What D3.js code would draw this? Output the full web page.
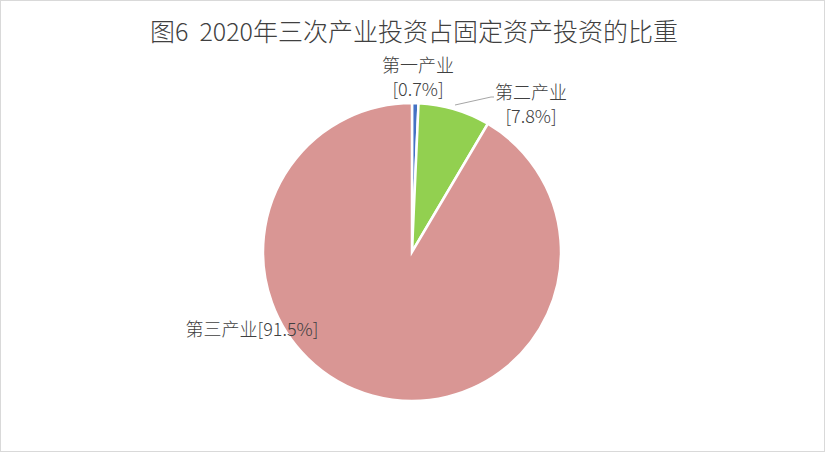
<!DOCTYPE html>
<html>
<head>
<meta charset="utf-8">
<script src="https://cdn.jsdelivr.net/npm/d3@7"></script>
<style>
  html, body { margin: 0; padding: 0; background: #fff; }
  text { font-family: "Noto Sans CJK SC", "Noto Sans", sans-serif; fill: #404040; font-weight: 300; }
</style>
</head>
<body>
<script>
const industries = ['第一产业', '第二产业', '第三产业'];
const shares = [0.7, 7.8, 91.5];
const sliceColors = ['#4472C4', '#92D050', '#D99694'];

const width = 825;
const height = 452;
const cx = 412, cy = 252, radius = 149;

const svg = d3.select('body')
  .append('svg')
  .attr('width', width)
  .attr('height', height);

svg.append('rect')
  .attr('x', 0.5).attr('y', 0.5)
  .attr('width', width - 1).attr('height', height - 1)
  .attr('fill', '#fff')
  .attr('stroke', '#D9D9D9');

svg.append('text')
  .attr('x', 414)
  .attr('y', 41)
  .attr('text-anchor', 'middle')
  .style('font-size', '25px')
  .style('white-space', 'pre')
  .style('fill', '#404040')
  .text('图6  2020年三次产业投资占固定资产投资的比重');

const data = industries.map((name, i) => ({ name, value: shares[i], color: sliceColors[i] }));

const pie = d3.pie().sort(null).value(d => d.value);
const arc = d3.arc().innerRadius(0).outerRadius(radius);
const arcs = pie(data);

const g = svg.append('g').attr('transform', `translate(${cx},${cy})`);

g.selectAll('path')
  .data(arcs)
  .enter().append('path')
    .attr('d', arc)
    .attr('fill', d => d.data.color)
    .attr('stroke', '#fff')
    .attr('stroke-width', 2.5);

// label placement (offsets from pie centre)
const labelLayout = [
  { lines: 2, x: 6, y: -180 },
  { lines: 2, x: 119, y: -153 },
  { lines: 1, x: -160, y: 84 }
];

const fmt = v => `[${v.toFixed(1)}%]`;

arcs.forEach((a, i) => {
  const L = labelLayout[i];
  const t = g.append('text')
    .attr('text-anchor', 'middle')
    .style('font-size', '18px');
  if (L.lines === 2) {
    t.append('tspan').attr('x', L.x).attr('y', L.y).text(a.data.name);
    t.append('tspan').attr('x', L.x).attr('y', L.y + 24).text(fmt(a.data.value));
  } else {
    t.attr('x', L.x).attr('y', L.y).text(a.data.name + fmt(a.data.value));
  }
});

// leader line for second slice
g.append('polyline')
  .attr('points', [[43, -147], [79, -155], [82, -155]].map(p => p.join(',')).join(' '))
  .attr('fill', 'none')
  .attr('stroke', '#A6A6A6')
  .attr('stroke-width', 1);
</script>
</body>
</html>
